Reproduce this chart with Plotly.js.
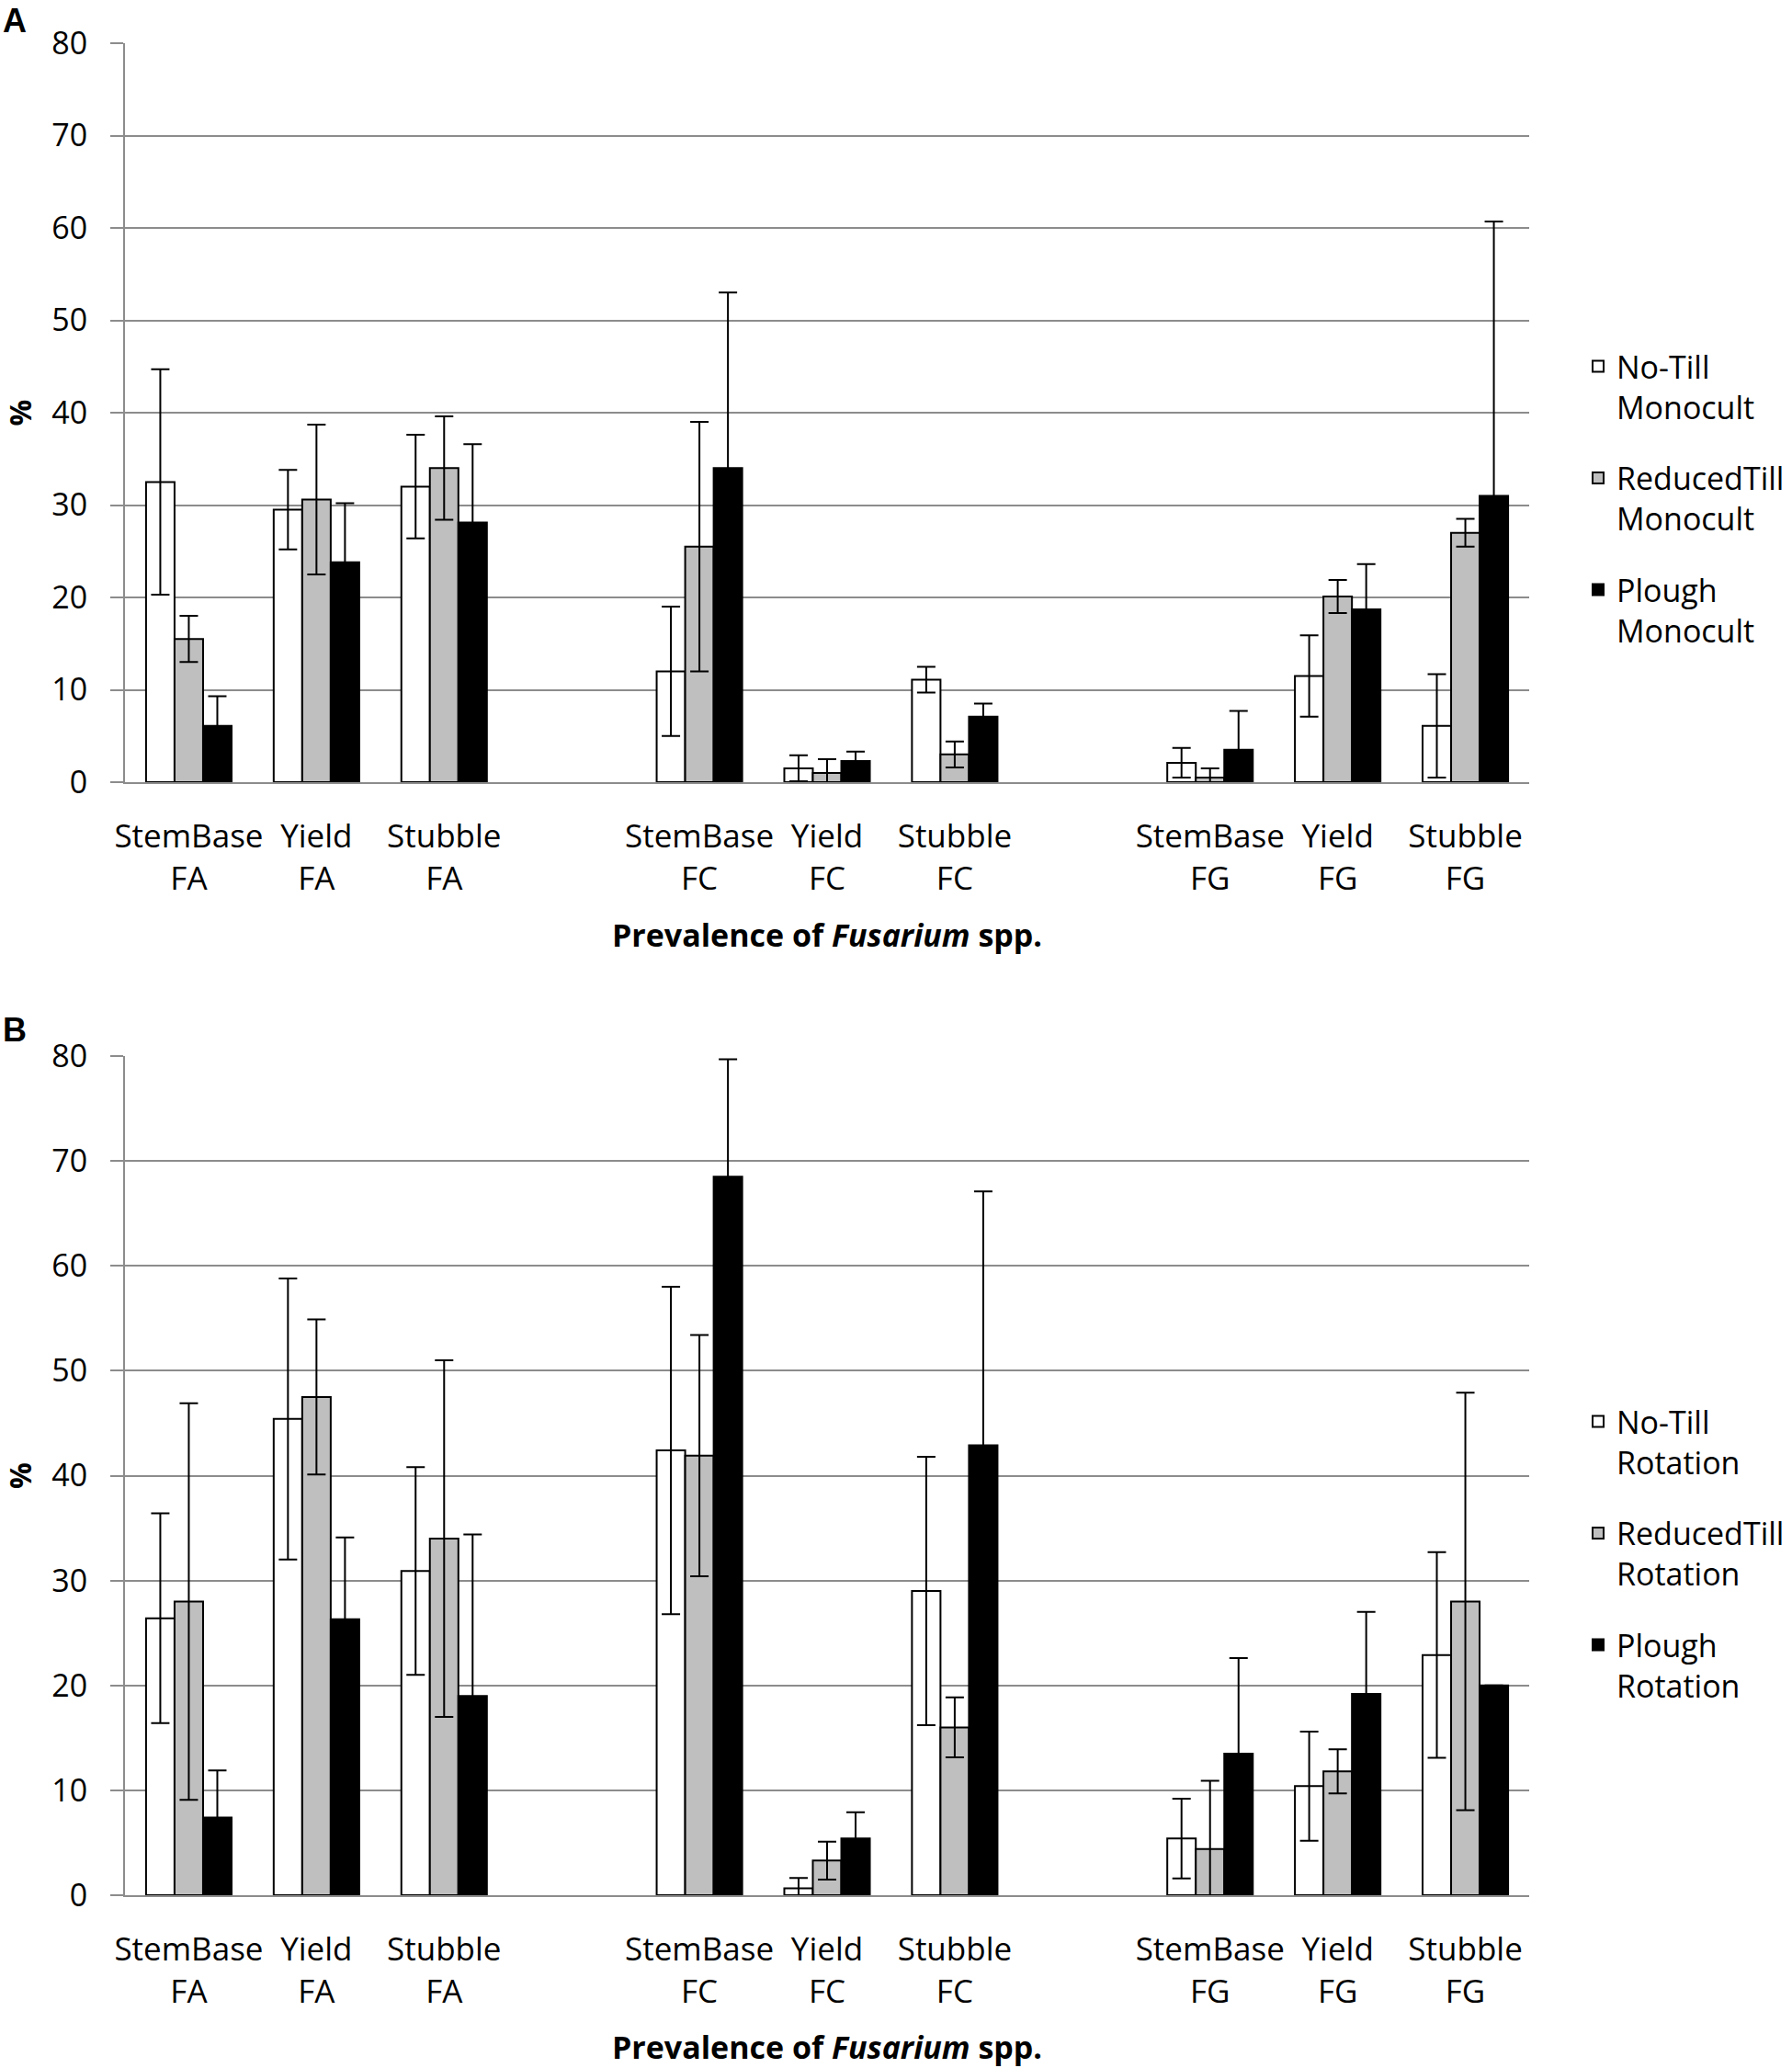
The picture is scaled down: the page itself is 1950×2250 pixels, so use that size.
<!DOCTYPE html>
<html><head><meta charset="utf-8">
<script src="https://cdn.plot.ly/plotly-3.0.1.min.js"></script>
<style>html,body{margin:0;padding:0;background:#fff}</style>
</head><body><div id="chart" style="width:1950px;height:2250px"></div>
<script>
// Categories (blank slots separate the FA / FC / FG groups)
const categories = ["StemBase<br>FA","Yield<br>FA","Stubble<br>FA"," ",
  "StemBase<br>FC","Yield<br>FC","Stubble<br>FC","  ",
  "StemBase<br>FG","Yield<br>FG","Stubble<br>FG"];
const yTicks = [0,10,20,30,40,50,60,70,80];

// Panel A: monoculture
const namesA = ["No-Till<br>Monocult","ReducedTill<br>Monocult","Plough<br>Monocult"];
const noTillMono     = [32.5,29.5,32.0,null,12.0,1.5,11.1,null,2.1,11.5,6.1];
const noTillMonoErr  = [12.2,4.3,5.6,null,7.0,1.4,1.4,null,1.6,4.4,5.6];
const reducedMono    = [15.5,30.6,34.0,null,25.5,1.0,3.0,null,0.5,20.1,27.0];
const reducedMonoErr = [2.5,8.1,5.6,null,13.5,1.5,1.4,null,1.0,1.8,1.5];
const ploughMono     = [6.1,23.8,28.1,null,34.0,2.3,7.1,null,3.5,18.7,31.0];
const ploughMonoErr  = [3.2,6.4,8.5,null,19.0,1.0,1.4,null,4.2,4.9,29.7];

// Panel B: rotation
const namesB = ["No-Till<br>Rotation","ReducedTill<br>Rotation","Plough<br>Rotation"];
const noTillRot      = [26.4,45.4,30.9,null,42.4,0.65,29.0,null,5.4,10.4,22.9];
const noTillRotErr   = [10.0,13.4,9.9,null,15.6,1.0,12.8,null,3.8,5.2,9.8];
const reducedRot     = [28.0,47.5,34.0,null,41.9,3.3,16.0,null,4.4,11.8,28.0];
const reducedRotErr  = [18.9,7.4,17.0,null,11.5,1.8,2.85,null,6.5,2.1,19.9];
const ploughRot      = [7.4,26.3,19.0,null,68.5,5.4,42.9,null,13.5,19.2,20.0];
const ploughRotErr   = [4.5,7.8,15.4,null,11.2,2.5,24.2,null,9.1,7.8,0];

const fills = ["#ffffff","#bfbfbf","#000000"];

function barTrace(name, vals, errs, fill, xa, ya, leg, grp){
  return {
    type:'bar', name:name, x:categories, y:vals,
    xaxis:xa, yaxis:ya, legend:leg, legendgroup:grp,
    marker:{color:fill, line:{color:'#000', width:2}},
    error_y:{type:'data', array:errs, visible:true, color:'#000', thickness:2, width:10},
    hoverinfo:'y'
  };
}

const data = [
  barTrace(namesA[0], noTillMono, noTillMonoErr, fills[0], 'x','y','legend','a1'),
  barTrace(namesA[1], reducedMono, reducedMonoErr, fills[1], 'x','y','legend','a2'),
  barTrace(namesA[2], ploughMono, ploughMonoErr, fills[2], 'x','y','legend','a3'),
  barTrace(namesB[0], noTillRot, noTillRotErr, fills[0], 'x2','y2','legend2','b1'),
  barTrace(namesB[1], reducedRot, reducedRotErr, fills[1], 'x2','y2','legend2','b2'),
  barTrace(namesB[2], ploughRot, ploughRotErr, fills[2], 'x2','y2','legend2','b3')
];

const gridC = '#8c8c8c';
function xAx(anchor, titleStandoff){
  return {
    anchor:anchor, domain:[136/1950, 1664/1950], type:'category',
    categoryorder:'array', categoryarray:categories,
    showline:true, linecolor:gridC, linewidth:2, ticks:'', showgrid:false, zeroline:false,
    tickfont:{family:'Open Sans', size:35, color:'#000'}, ticklabelstandoff:27,
    automargin:false, fixedrange:true,
    title:{text:'<b>Prevalence of <i>Fusarium</i> spp.</b>', font:{family:'Open Sans', size:34, color:'#000'}, standoff:titleStandoff}
  };
}
function yAx(anchor, dom){
  return {
    anchor:anchor, domain:dom, range:[0,80], tickvals:yTicks, ticktext:yTicks.map(String),
    showgrid:true, gridcolor:gridC, gridwidth:2, zeroline:false,
    showline:true, linecolor:gridC, linewidth:2,
    ticks:'outside', ticklen:14, tickwidth:2, tickcolor:gridC,
    tickfont:{family:'Open Sans', size:34, color:'#000'}, ticklabelstandoff:18,
    automargin:false, fixedrange:true,
    title:{text:'<b>%</b>', font:{family:'Open Sans', size:32, color:'#000'}, standoff:20}
  };
}
function leg(ytop){
  return {x:1719/1950, xanchor:'left', y:ytop, yanchor:'top', valign:'top',
    font:{family:'Open Sans', size:34, color:'#000'}, tracegroupgap:30,
    bgcolor:'rgba(0,0,0,0)', borderwidth:0, traceorder:'grouped'};
}

const layout = {
  width:1950, height:2250, margin:{l:0,r:0,t:0,b:0},
  paper_bgcolor:'#fff', plot_bgcolor:'#fff',
  font:{family:'Open Sans', size:33, color:'#000'},
  barmode:'group', bargap:0.33, bargroupgap:0,
  xaxis:xAx('y', 30), yaxis:yAx('x', [(2250-851)/2250, (2250-47)/2250]),
  xaxis2:xAx('y2', 52), yaxis2:yAx('x2', [(2250-2062)/2250, (2250-1149)/2250]),
  legend:leg((2250-370)/2250), legend2:leg((2250-1518)/2250),
  showlegend:true,
  annotations:[
    {text:'<b>A</b>', xref:'paper', yref:'paper', x:1/1950, y:1, xanchor:'left', yanchor:'top', showarrow:false, font:{family:'Liberation Sans, Arial', size:36, color:'#000'}},
    {text:'<b>B</b>', xref:'paper', yref:'paper', x:1/1950, y:(2250-1098)/2250, xanchor:'left', yanchor:'top', showarrow:false, font:{family:'Liberation Sans, Arial', size:36, color:'#000'}}
  ]
};

Plotly.newPlot('chart', data, layout, {staticPlot:true, displayModeBar:false});
</script></body></html>
